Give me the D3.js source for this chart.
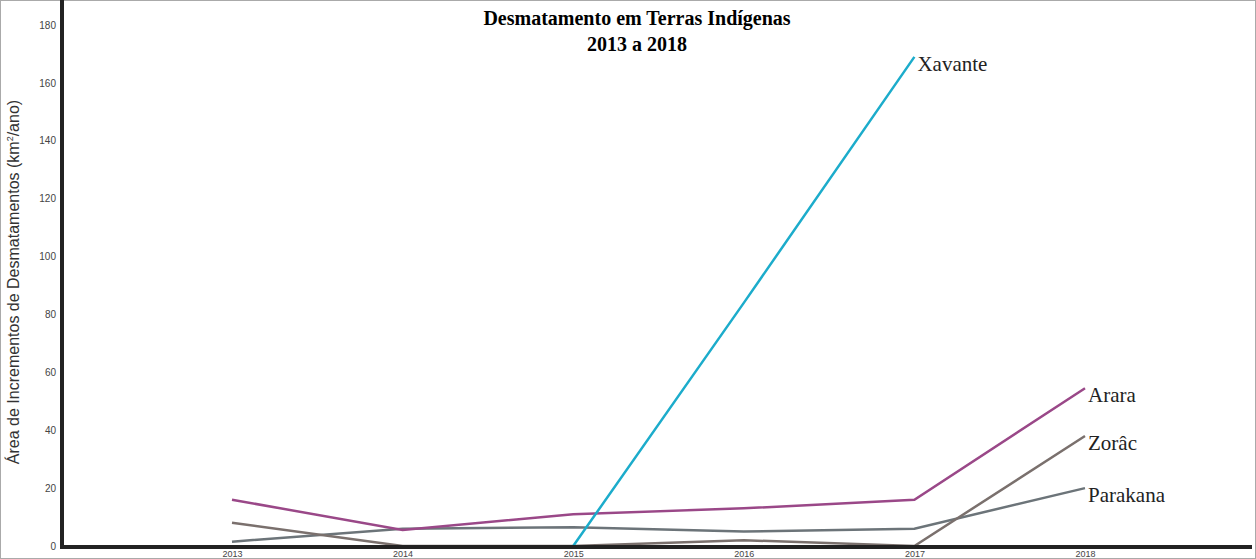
<!DOCTYPE html><html><head><meta charset="utf-8"><script src="https://cdn.jsdelivr.net/npm/d3@7"></script>
<style>body{margin:0;background:#fff}svg{display:block}</style></head><body><svg id="c" width="1256" height="559"></svg>
<script>
const years=[2013,2014,2015,2016,2017,2018];
const yTicks=[0,20,40,60,80,100,120,140,160,180];
const xavante=[null,null,0,84,169,null];
const arara=[16,5.5,11,13,16,54.5];
const zorac=[8,0,0,2,0,38];
const parakana=[1.5,6,6.5,5,6,20];
const series=[
 {name:"Parakana",values:parakana,color:"#6c7479"},
 {name:"Zorâc",values:zorac,color:"#7a706d"},
 {name:"Arara",values:arara,color:"#9a4888"},
 {name:"Xavante",values:xavante,color:"#1caccb"}];
const svg=d3.select("#c");
svg.append("rect").attr("x",0.5).attr("y",0.5).attr("width",1255).attr("height",558).attr("fill","#fff").attr("stroke","#aaa");
const x=d3.scaleLinear().domain([2013,2018]).range([232,1085]);
const y=d3.scaleLinear().domain([0,180]).range([546,25]);
const line=d3.line().defined(d=>d!=null).x((d,i)=>x(years[i])).y(d=>y(d));
series.forEach(s=>{
 svg.append("path").datum(s.values).attr("d",line).attr("fill","none").attr("stroke",s.color).attr("stroke-width",2.5);
 let li=s.values.length-1; while(s.values[li]==null)li--;
 svg.append("text").attr("x",x(years[li])+3).attr("y",y(s.values[li])+14).text(s.name)
  .attr("font-family","Liberation Serif").attr("font-size",21).attr("fill","#222");
});
svg.append("line").attr("x1",62).attr("x2",62).attr("y1",0).attr("y2",548).attr("stroke","#222").attr("stroke-width",4);
svg.append("line").attr("x1",60).attr("x2",1252).attr("y1",547).attr("y2",547).attr("stroke","#222").attr("stroke-width",4);
const ya=svg.append("g").attr("transform","translate(56,0)").call(d3.axisLeft(y).tickValues(yTicks).tickSize(0).tickPadding(0));
ya.select(".domain").remove();
ya.selectAll("text").attr("font-family","Liberation Sans").attr("font-size",10).attr("fill","#444").attr("dy","0.32em");
const xa=svg.append("g").attr("transform","translate(0,549)").call(d3.axisBottom(x).tickValues(years).tickFormat(d3.format("d")).tickSize(0).tickPadding(0));
xa.select(".domain").remove();
xa.selectAll("text").attr("font-family","Liberation Sans").attr("font-size",9).attr("fill","#444").attr("dy","0.9em");
svg.append("text").attr("transform","translate(19,282) rotate(-90)").attr("text-anchor","middle")
 .attr("font-family","Liberation Sans").attr("font-size",16).attr("fill","#333")
 .html('Área de Incrementos de Desmatamentos (km<tspan dy="-6" font-size="9">2</tspan><tspan dy="6">/ano)</tspan>');
svg.append("text").attr("x",637).attr("y",25).attr("text-anchor","middle").attr("font-family","Liberation Serif").attr("font-weight","bold").attr("font-size",20).text("Desmatamento em Terras Indígenas");
svg.append("text").attr("x",637).attr("y",51).attr("text-anchor","middle").attr("font-family","Liberation Serif").attr("font-weight","bold").attr("font-size",20).text("2013 a 2018");
</script></body></html>
